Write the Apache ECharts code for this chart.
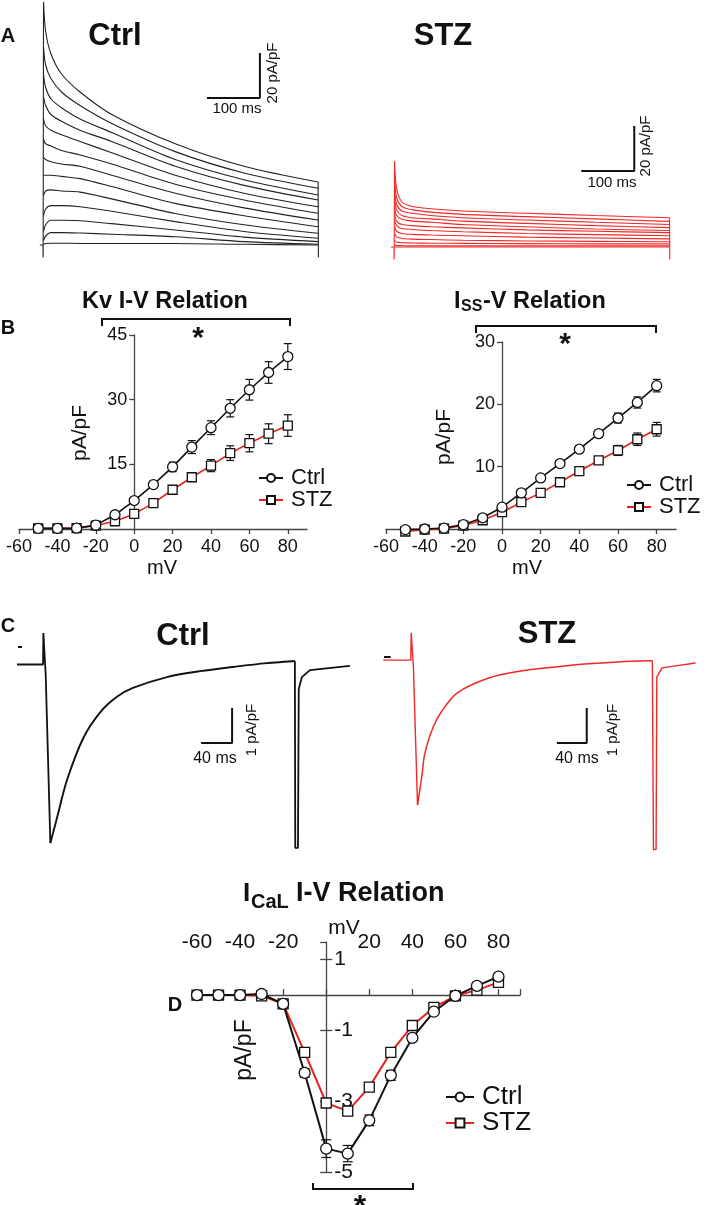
<!DOCTYPE html>
<html><head><meta charset="utf-8">
<script src="https://cdn.jsdelivr.net/npm/echarts@6/dist/echarts.min.js"></script>
<style>html,body{margin:0;padding:0;background:#fff}#c{width:709px;height:1205px}</style>
</head><body><div id="c"></div>
<script>
// ---------------- DATA ----------------
// Panel A: Kv current traces (ms, pA/pF)
const kvTraceTime = [1, 5, 15, 35, 70, 130, 250, 380, 520];
const ctrlKvTraces = [
  [108, 95, 85, 76, 68, 58, 45, 35, 28],
  [88, 80, 74, 68, 62, 54, 41.5, 32, 25.2],
  [76, 70, 65, 61, 56, 50, 38, 29, 22.2],
  [66, 62, 58, 55, 51, 46, 35, 26.5, 20],
  [56, 53, 51, 49, 46, 41, 31, 23, 17],
  [47, 45, 44, 42, 40, 36, 27, 20, 14.1],
  [39, 38, 37, 36, 35, 31, 23, 16.5, 11.1],
  [31, 31, 31, 30.5, 29.5, 26, 18.5, 13, 8.1],
  [22, 24, 24.5, 24, 23.5, 20.5, 14, 9, 5.2],
  [13, 16, 17.5, 17.5, 17, 15, 10.4, 6, 3.0],
  [6, 9, 11, 11, 10.8, 9.5, 6.7, 3.5, 1.5],
  [2, 4, 5.5, 5.5, 5.3, 4.8, 3.7, 1.5, 0.3],
  [0.3, 0.7, 0.8, 0.8, 0.7, 0.7, 0.7, 0.3, 0]
];
const stzKvTraces = [
  [38, 26, 20, 18, 17, 16, 15, 14, 13],
  [31, 22, 18, 16.5, 15.5, 14.5, 13.5, 12.5, 11.4],
  [26, 19, 16, 15, 14, 13, 12, 11, 10],
  [22, 16.5, 14, 13, 12.5, 11.5, 10.5, 9.5, 8.6],
  [18, 14, 12.3, 11.5, 11, 10, 9, 8, 7.3],
  [15, 11.5, 10, 9.5, 9, 8.5, 7.6, 7, 6.4],
  [12, 9.5, 8.2, 7.8, 7.3, 6.8, 6, 5.5, 5],
  [9, 7, 6, 5.6, 5.3, 5, 4.4, 4, 3.6],
  [6, 4.5, 3.8, 3.5, 3.3, 3, 2.7, 2.5, 2.3],
  [3, 2.2, 1.9, 1.8, 1.7, 1.6, 1.5, 1.4, 1.4],
  [1, 0.7, 0.6, 0.5, 0.5, 0.5, 0.5, 0.5, 0.5],
  [0, 0, 0, 0, 0, 0, 0, 0, 0]
];
const kvTransient = -5.5;          // capacitive transient at step on/off
const kvBarCtrl = [310, 65.3];     // scale bar corner: 100 ms x 20 pA/pF
const kvBarStz = [353.5, 33.8];

// Panel B: I-V relations
const voltsB = [-50, -40, -30, -20, -10, 0, 10, 20, 30, 40, 50, 60, 70, 80];
const kvCtrl = [0.15, 0.15, 0.2, 0.9, 3.3, 6.6, 10.3, 14.4, 19.0, 23.5, 28.0, 32.3, 36.3, 40.0];
const kvCtrlErr = [0.1, 0.1, 0.1, 0.3, 0.5, 0.6, 0.8, 1.1, 1.5, 1.6, 2.0, 2.4, 2.5, 3.0];
const kvStz = [0.15, 0.15, 0.2, 0.8, 1.8, 3.5, 6.0, 9.1, 12.0, 14.7, 17.6, 19.9, 22.1, 24.0];
const kvStzErr = [0.1, 0.1, 0.1, 0.2, 0.3, 0.4, 0.5, 0.6, 0.5, 1.4, 1.7, 2.0, 2.3, 2.5];
const issCtrl = [-0.1, 0, 0.15, 0.7, 1.8, 3.5, 5.8, 8.2, 10.5, 12.8, 15.3, 17.8, 20.3, 23.0];
const issCtrlErr = [0.1, 0.1, 0.1, 0.2, 0.3, 0.4, 0.4, 0.4, 0.4, 0.5, 0.6, 0.8, 0.9, 1.0];
const issStz = [-0.4, -0.1, 0.05, 0.55, 1.4, 2.7, 4.3, 5.8, 7.5, 9.3, 11.0, 12.6, 14.4, 16.0];
const issStzErr = [0.1, 0.1, 0.1, 0.2, 0.3, 0.4, 0.4, 0.4, 0.4, 0.5, 0.5, 0.8, 1.0, 1.1];

// Panel C: ICaL traces (ms, pA/pF), split into step-on, decay and tail segments
const caCtrlOnTime = [-33.5, 0, 0.5, 2.5, 3.5, 9.5];
const caCtrlOn = [-0.5, -0.5, 0.4, 0.4, -0.8, -5.6];
const caCtrlDecayTime = [9.5, 13, 19, 31, 52, 74, 95, 116, 160, 203, 245, 289, 325];
const caCtrlDecay = [-5.6, -5.31, -4.8, -3.8, -2.6, -1.86, -1.43, -1.17, -0.86, -0.69, -0.57, -0.46, -0.4];
const caCtrlTailTime = [325, 325.5, 329, 330, 334, 344.5, 396];
const caCtrlTail = [-0.4, -5.74, -5.74, -1.2, -0.86, -0.66, -0.54];
const caStzOnTime = [-37, 0, 0.5, 2.5, 3.5, 9];
const caStzOn = [-0.09, -0.09, 0.69, 0.69, -0.3, -4.23];
const caStzDecayTime = [9, 14.5, 19, 30, 40, 62, 104.5, 148, 191, 233.5, 277, 324];
const caStzDecay = [-4.23, -3.45, -2.74, -2.0, -1.6, -1.03, -0.6, -0.4, -0.29, -0.2, -0.14, -0.11];
const caStzTailTime = [324, 325.5, 329, 330, 337, 382];
const caStzTail = [-0.11, -5.5, -5.5, -0.57, -0.31, -0.17];
const caZeroCtrl = [-32.3, -27];   // zero-current marker (ms span)
const caZeroStz = [-36, -27];
const caBarCtrl = [204, -2.74];    // scale bar corner: 40 ms x 1 pA/pF
const caBarStz = [196, -2.46];

// Panel D: ICaL I-V relation
const voltsD = [-60, -50, -40, -30, -20, -10, 0, 10, 20, 30, 40, 50, 60, 70, 80];
const caCtrl = [0, 0, 0, 0.03, -0.25, -2.2, -4.34, -4.48, -3.54, -2.27, -1.21, -0.47, -0.02, 0.26, 0.52];
const caCtrlErr = [0.04, 0.04, 0.04, 0.04, 0.05, 0.12, 0.25, 0.23, 0.15, 0.14, 0.08, 0.05, 0.04, 0.04, 0.04];
const caStz = [0, 0, 0, -0.02, -0.25, -1.62, -3.05, -3.28, -2.6, -1.62, -0.86, -0.35, -0.02, 0.14, 0.36];
const caStzErr = [0.03, 0.03, 0.03, 0.03, 0.05, 0.08, 0.1, 0.1, 0.08, 0.07, 0.06, 0.04, 0.03, 0.03, 0.03];

// ---------------- CHART ----------------
const FONT = "'Liberation Sans', Arial, Helvetica, sans-serif";
const INK = '#111';
const AXIS = '#444';
const RED = '#e3231f';
const TRACE_RED = '#f02828';

const chart = echarts.init(document.getElementById('c'));

const grid = [
  {left: 37.7, top: 2, width: 280.4, height: 261},
  {left: 388.7, top: 4, width: 280.8, height: 261},
  {left: 19, top: 335, width: 288, height: 194},
  {left: 386, top: 342, width: 290, height: 187},
  {left: 12, top: 612, width: 341, height: 245},
  {left: 381, top: 622, width: 341, height: 245},
  {left: 197, top: 942, width: 323, height: 230}
];
// horizontal distance (px) from a grid's left edge to x = 0 mV
const zeroShift = g => grid[g].width * 60 / 150;

function hiddenX(g, min, max) { return {type: 'value', gridIndex: g, min, max, show: false, splitLine: {show: false}}; }
function hiddenY(g, min, max) { return {type: 'value', gridIndex: g, min, max, show: false, splitLine: {show: false}}; }
function ivX(g) {
  return {type: 'value', gridIndex: g, min: -60, max: 90, interval: 20,
    axisLine: {onZero: true, lineStyle: {color: AXIS, width: 1.3}},
    axisTick: {length: 5, lineStyle: {color: AXIS, width: 1.3}},
    axisLabel: {fontSize: 18, color: INK, fontFamily: FONT, margin: 9, showMaxLabel: false},
    splitLine: {show: false}};
}
function ivY(g, max, interval) {
  return {type: 'value', gridIndex: g, position: 'left', offset: -zeroShift(g), min: 0, max, interval,
    axisLine: {show: true, onZero: false, lineStyle: {color: AXIS, width: 1.3}},
    axisTick: {show: true, length: 5, lineStyle: {color: AXIS, width: 1.3}},
    axisLabel: {fontSize: 18, color: INK, fontFamily: FONT, margin: 7, showMinLabel: false},
    splitLine: {show: false}};
}

const xAxis = [
  hiddenX(0, -10, 520), hiddenX(1, -10, 520),
  ivX(2), ivX(3),
  hiddenX(4, -40, 400), hiddenX(5, -40, 400),
  {type: 'value', gridIndex: 6, min: -60, max: 90, interval: 20,
    axisLine: {onZero: true, lineStyle: {color: AXIS, width: 1.3}},
    axisTick: {inside: true, length: 6, lineStyle: {color: AXIS, width: 1.3}},
    axisLabel: {show: false}, splitLine: {show: false}},
  {type: 'value', gridIndex: 6, position: 'top', min: -60, max: 90, interval: 20,
    axisLine: {show: false, onZero: false}, axisTick: {show: false},
    axisLabel: {fontSize: 21, color: INK, fontFamily: FONT, margin: 0, verticalAlign: 'middle',
      formatter: v => (v === 0 || v > 85) ? '' : String(v)},
    splitLine: {show: false}}
];
const oddLabel = v => (Math.abs(v - Math.round(v)) < 1e-6 && Math.abs(Math.round(v)) % 2 === 1) ? String(Math.round(v)) : '';
const yAxis = [
  hiddenY(0, -8, 108), hiddenY(1, -8, 108),
  ivY(2, 45, 15), ivY(3, 30, 10),
  hiddenY(4, -6, 1), hiddenY(5, -6, 1),
  {type: 'value', gridIndex: 6, position: 'left', offset: -zeroShift(6), min: -5, max: 1.5, interval: 2,
    axisLine: {show: true, onZero: false, lineStyle: {color: AXIS, width: 1.3}},
    axisTick: {show: true, inside: true, length: 6, lineStyle: {color: AXIS, width: 1.3}},
    axisLabel: {inside: true, margin: 8, fontSize: 21, color: INK, fontFamily: FONT, formatter: oddLabel, showMaxLabel: false},
    splitLine: {show: false}},
  {type: 'value', gridIndex: 6, position: 'left', offset: -zeroShift(6), min: -5, max: 1.5, interval: 2,
    axisLine: {show: false, onZero: false},
    axisTick: {show: true, inside: false, length: 6, lineStyle: {color: AXIS, width: 1.3}},
    axisLabel: {show: false}, splitLine: {show: false}}
];

const series = [];
function plain(name, ax, data, color, width, extra) {
  series.push(Object.assign({type: 'line', name, xAxisIndex: ax, yAxisIndex: ax, data,
    showSymbol: false, symbol: 'none', silent: true, animation: false,
    lineStyle: {color, width}, z: 2}, extra || {}));
}
const pairs = (ts, vs) => ts.map((t, i) => [t, vs[i]]);
// Panel A traces
function kvPanel(traces, ax, color, prefix) {
  traces.forEach((vals, i) => plain(prefix + i, ax, pairs(kvTraceTime, vals), color, 1.1, {smooth: 0.3}));
  const top = traces[0];
  plain(prefix + 'on', ax, [[-6, 0], [0, 0], [0.3, kvTransient], [kvTraceTime[0], top[0]]], color, 1.1);
  const tEnd = kvTraceTime[kvTraceTime.length - 1];
  plain(prefix + 'off', ax, [[tEnd, top[top.length - 1]], [tEnd + 0.6, kvTransient]], color, 1.1);
}
kvPanel(ctrlKvTraces, 0, '#222', 'ctrlA');
kvPanel(stzKvTraces, 1, TRACE_RED, 'stzA');
function bar(name, ax, corner, dx, dy) {
  plain(name, ax, [[corner[0], corner[1]], [corner[0] + dx, corner[1]], [corner[0] + dx, corner[1] + dy]], INK, 2);
}
bar('barA1', 0, kvBarCtrl, 100, 20);
bar('barA2', 1, kvBarStz, 100, 20);

// Panel C traces
plain('ctrlCon', 4, pairs(caCtrlOnTime, caCtrlOn), INK, 1.8);
plain('ctrlCdecay', 4, pairs(caCtrlDecayTime, caCtrlDecay), INK, 1.9, {smooth: 0.35});
plain('ctrlCtail', 4, pairs(caCtrlTailTime, caCtrlTail), INK, 1.8);
plain('stzCon', 5, pairs(caStzOnTime, caStzOn), TRACE_RED, 1.4);
plain('stzCdecay', 5, pairs(caStzDecayTime, caStzDecay), TRACE_RED, 1.5, {smooth: 0.35});
plain('stzCtail', 5, pairs(caStzTailTime, caStzTail), TRACE_RED, 1.4);
plain('zeroC1', 4, caZeroCtrl.map(t => [t, 0]), INK, 2);
plain('zeroC2', 5, caZeroStz.map(t => [t, 0]), INK, 2);
bar('barC1', 4, caBarCtrl, 40, 1);
bar('barC2', 5, caBarStz, 40, 1);

// Error bars and I-V lines
function errBars(ax, xs, ys, es, cap) {
  series.push({type: 'custom', xAxisIndex: ax, yAxisIndex: ax, silent: true, z: 3, clip: false,
    encode: {x: 0, y: 1},
    data: xs.map((x, i) => [x, ys[i], es[i]]),
    renderItem: (params, api) => {
      const x = api.value(0), y = api.value(1), e = api.value(2);
      const a = api.coord([x, y + e]), b = api.coord([x, y - e]);
      const st = {stroke: INK, lineWidth: 1.2};
      return {type: 'group', children: [
        {type: 'line', shape: {x1: a[0], y1: a[1], x2: b[0], y2: b[1]}, style: st},
        {type: 'line', shape: {x1: a[0] - cap, y1: a[1], x2: a[0] + cap, y2: a[1]}, style: st},
        {type: 'line', shape: {x1: b[0] - cap, y1: b[1], x2: b[0] + cap, y2: b[1]}, style: st}
      ]};
    }});
}
function ivLine(name, ax, xs, ys, color, symbol, size, width) {
  series.push({type: 'line', name, xAxisIndex: ax, yAxisIndex: ax, data: pairs(xs, ys),
    symbol, symbolSize: size, showSymbol: true, silent: true, z: 4, clip: false,
    lineStyle: {color, width},
    itemStyle: {color: '#fff', borderColor: INK, borderWidth: 1.3}});
}
errBars(2, voltsB, kvStz, kvStzErr, 4);
errBars(2, voltsB, kvCtrl, kvCtrlErr, 4);
ivLine('STZ', 2, voltsB, kvStz, RED, 'rect', 9, 1.6);
ivLine('Ctrl', 2, voltsB, kvCtrl, INK, 'circle', 10, 1.6);
errBars(3, voltsB, issStz, issStzErr, 4);
errBars(3, voltsB, issCtrl, issCtrlErr, 4);
ivLine('STZ', 3, voltsB, issStz, RED, 'rect', 9, 1.6);
ivLine('Ctrl', 3, voltsB, issCtrl, INK, 'circle', 10, 1.6);
errBars(6, voltsD, caStz, caStzErr, 5);
errBars(6, voltsD, caCtrl, caCtrlErr, 5);
ivLine('STZ', 6, voltsD, caStz, RED, 'rect', 10, 2);
ivLine('Ctrl', 6, voltsD, caCtrl, INK, 'circle', 11, 2);

// Texts and annotations
function txt(x, y, s, size, bold, rot, align) {
  return {type: 'text', x, y, rotation: rot || 0, silent: true,
    style: {text: s, fontSize: size, fontWeight: bold ? 'bold' : 'normal', fontFamily: FONT, fill: INK,
      align: align || 'center', verticalAlign: 'middle'}};
}
function bracket(pts) {
  return {type: 'polyline', silent: true, shape: {points: pts}, style: {stroke: INK, lineWidth: 2, fill: null}};
}
const R = Math.PI / 2;
const graphic = [
  txt(8, 36, 'A', 20, true), txt(115, 36, 'Ctrl', 31, true), txt(443, 36, 'STZ', 31, true),
  txt(237, 109, '100 ms', 15), txt(273, 73, '20 pA/pF', 15, false, R),
  txt(612, 183, '100 ms', 15), txt(646, 146, '20 pA/pF', 15, false, R),
  txt(8, 328, 'B', 20, true),
  txt(165, 302, 'Kv I-V Relation', 23.5, true),
  txt(454, 302, 'I', 23.5, true, 0, 'left'), txt(461, 307, 'SS', 16, true, 0, 'left'),
  txt(483, 302, '-V Relation', 23.5, true, 0, 'left'),
  bracket([[102, 326], [102, 319], [290, 319], [290, 326]]), txt(198, 339, '*', 30, true),
  bracket([[476, 333], [476, 326], [656, 326], [656, 333]]), txt(565, 345, '*', 30, true),
  txt(162, 568, 'mV', 20), txt(80, 433, 'pA/pF', 21, false, R),
  txt(527, 568, 'mV', 20), txt(444, 437, 'pA/pF', 21, false, R),
  txt(8, 626, 'C', 20, true), txt(183, 636, 'Ctrl', 31, true), txt(547, 634, 'STZ', 31, true),
  txt(215, 759, '40 ms', 16), txt(252, 730, '1 pA/pF', 15, false, R),
  txt(577, 759, '40 ms', 16), txt(613, 730, '1 pA/pF', 15, false, R),
  txt(175, 1005, 'D', 20, true),
  txt(243, 894, 'I', 26, true, 0, 'left'), txt(251, 902, 'CaL', 20, true, 0, 'left'),
  txt(296, 894, 'I-V Relation', 27, true, 0, 'left'),
  txt(344, 928, 'mV', 21), txt(245, 1050, 'pA/pF', 23, false, R),
  bracket([[313, 1183], [313, 1189], [413, 1189], [413, 1183]]), txt(360, 1208, '*', 32, true)
];

function legendAt(left, top, size, iw, ih) {
  return {data: ['Ctrl', 'STZ'], orient: 'vertical', left, top, itemWidth: iw, itemHeight: ih, itemGap: 0,
    selectedMode: false, padding: 0,
    textStyle: {fontSize: size, lineHeight: size, fontFamily: FONT, color: INK, padding: [0, 0, 0, 3]}};
}

chart.setOption({
  animation: false,
  backgroundColor: '#fff',
  grid, xAxis, yAxis, series, graphic,
  legend: [legendAt(258, 467, 22, 24, 10), legendAt(626, 474, 22, 24, 10), legendAt(445, 1084, 26, 28, 11)]
});
</script>
</body></html>
